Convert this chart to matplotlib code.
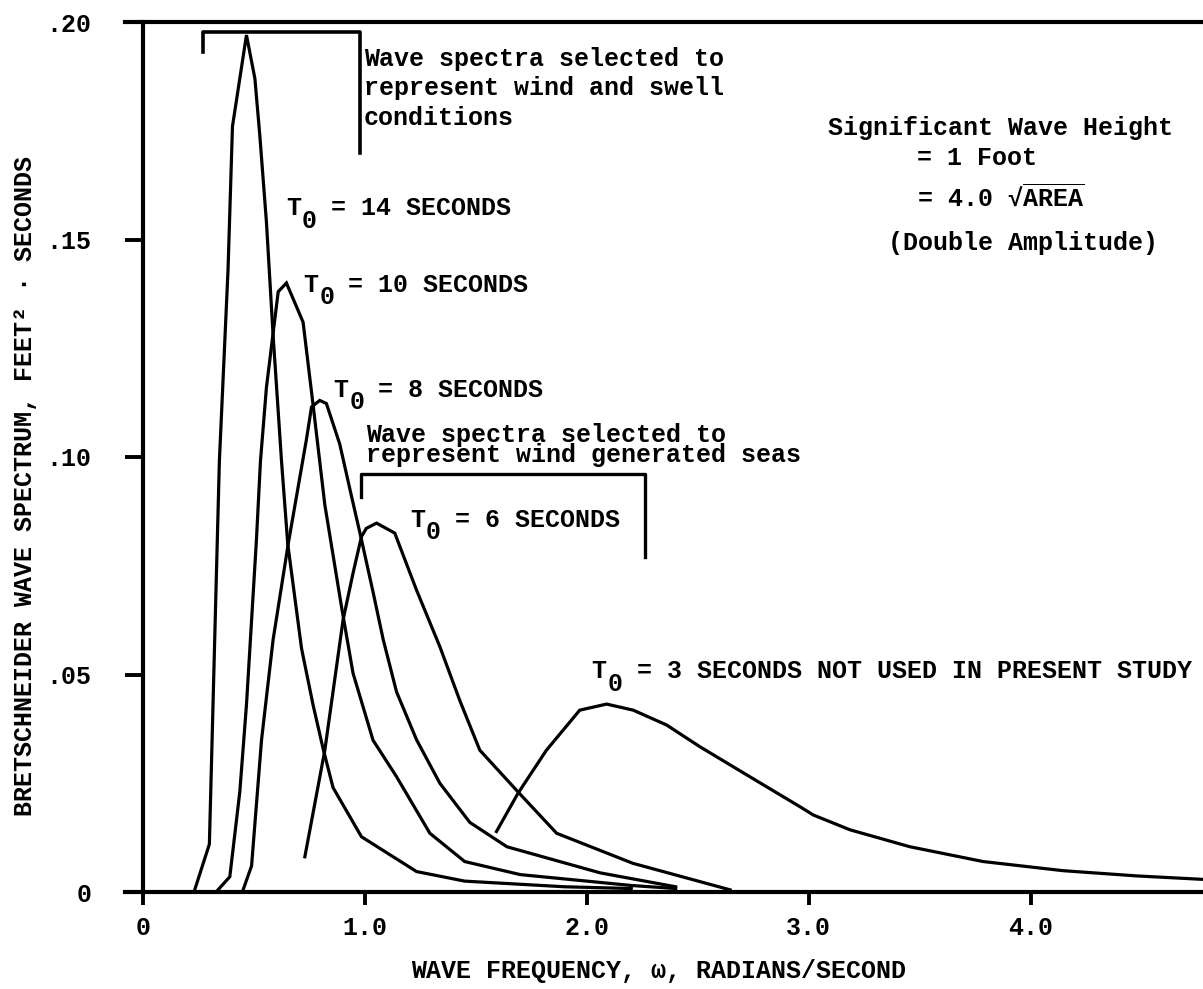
import matplotlib
matplotlib.use("Agg")
import matplotlib.pyplot as plt

# Bretschneider wave spectra (omega in rad/s, S in ft^2 * s) for each modal period T0
omega_t14 = [0.234, 0.300, 0.324, 0.345, 0.384, 0.404, 0.467, 0.505, 0.527, 0.557,
             0.587, 0.625, 0.653, 0.715, 0.767, 0.812, 0.857, 0.985, 1.233, 1.450,
             1.900, 2.200]
spec_t14 = [0.0005, 0.011, 0.058, 0.099, 0.143, 0.176, 0.197, 0.187, 0.174, 0.154,
            0.128, 0.099, 0.080, 0.056, 0.043, 0.033, 0.024, 0.0127, 0.0047, 0.0025,
            0.0012, 0.0008]

omega_t10 = [0.339, 0.392, 0.437, 0.467, 0.512, 0.530, 0.557, 0.610, 0.647, 0.722,
             0.767, 0.820, 0.895, 0.947, 1.037, 1.143, 1.293, 1.450, 1.700, 2.200,
             2.400]
spec_t10 = [0.0005, 0.0035, 0.023, 0.043, 0.081, 0.099, 0.116, 0.138, 0.140, 0.131,
            0.112, 0.089, 0.0656, 0.0503, 0.0349, 0.0265, 0.0135, 0.007, 0.004, 0.0015,
            0.0008]

omega_t8 = [0.452, 0.490, 0.535, 0.587, 0.655, 0.737, 0.760, 0.797, 0.827, 0.887,
            0.940, 0.985, 1.037, 1.083, 1.143, 1.233, 1.338, 1.473, 1.640, 2.060,
            2.400]
spec_t8 = [0.0005, 0.006, 0.035, 0.058, 0.080, 0.104, 0.1115, 0.113, 0.1123, 0.103,
           0.091, 0.081, 0.069, 0.058, 0.046, 0.035, 0.025, 0.016, 0.0104, 0.0044,
           0.0012]

omega_t6 = [0.730, 0.820, 0.902, 0.947, 0.985, 1.007, 1.053, 1.135, 1.233, 1.338,
            1.428, 1.518, 1.683, 1.864, 2.207, 2.645]
spec_t6 = [0.0081, 0.0326, 0.0625, 0.0733, 0.0817, 0.0836, 0.0848, 0.0825, 0.0694, 0.0564,
           0.044, 0.0326, 0.0234, 0.0135, 0.0066, 0.0005]

omega_t3 = [1.593, 1.690, 1.818, 1.968, 2.089, 2.209, 2.359, 2.509, 2.734, 2.960,
            3.020, 3.185, 3.455, 3.785, 4.145, 4.476, 4.775]
spec_t3 = [0.0139, 0.0227, 0.0326, 0.0418, 0.0432, 0.0418, 0.0384, 0.0334, 0.0265, 0.0196,
           0.0177, 0.0143, 0.0104, 0.0070, 0.0049, 0.0037, 0.0029]

# Curve labels: (x, y baseline, period text)
curve_labels = [
    (0.644, 0.1556, "= 14 SECONDS"),
    (0.722, 0.1380, "= 10 SECONDS"),
    (0.857, 0.1139, "= 8 SECONDS"),
    (1.203, 0.0840, "= 6 SECONDS"),
    (2.021, 0.0491, "= 3 SECONDS NOT USED IN PRESENT STUDY"),
]

# Brackets grouping the spectra
swell_bracket_x = [0.27, 0.27, 0.977, 0.977]
swell_bracket_y = [0.1930, 0.1978, 0.1978, 0.1700]
seas_bracket_x = [0.981, 0.981, 2.261, 2.261]
seas_bracket_y = [0.0909, 0.0960, 0.0960, 0.0771]

swell_note = ["Wave spectra selected to", "represent wind and swell", "conditions"]
seas_note = ["Wave spectra selected to", "represent wind generated seas"]

height_note = [
    (3.087, 0.1740, "Significant Wave Height"),
    (3.485, 0.1671, "= 1 Foot"),
    (3.485, 0.1579, r"= 4.0 √$\overline{\mathregular{AREA}}$"),
    (3.357, 0.1476, "(Double Amplitude)"),
]

x_ticks = [0, 1, 2, 3, 4]
x_tick_labels = ["0", "1.0", "2.0", "3.0", "4.0"]
y_ticks = [0, 0.05, 0.10, 0.15, 0.20]
y_tick_labels = ["0", ".05", ".10", ".15", ".20"]

plt.rcParams["font.family"] = ["Liberation Mono", "DejaVu Sans Mono"]
plt.rcParams["font.weight"] = "bold"
plt.rcParams["axes.labelweight"] = "bold"
plt.rcParams["mathtext.default"] = "regular"

FS = 18
W = 1203
H = 989

fig = plt.figure(figsize=(W / 100, H / 100), dpi=100)
ax = fig.add_axes([125 / W, 1 - 892 / H, 1 - 125 / W, (892 - 22) / H])
ax.set_xlim(-0.08, 4.775)
ax.set_ylim(0, 0.20)

for side in ("top", "bottom", "left"):
    ax.spines[side].set_linewidth(3.0)
ax.spines["right"].set_visible(False)
ax.spines["left"].set_position(("data", 0))

ax.set_xticks(x_ticks)
ax.set_xticklabels(x_tick_labels)
ax.set_yticks(y_ticks)
ax.set_yticklabels(y_tick_labels)
ax.tick_params(axis="x", direction="out", length=9.5, width=2.8, pad=8, labelsize=FS)
ax.tick_params(axis="y", direction="out", length=13, width=2.8, pad=24, labelsize=FS)

curves = [(omega_t14, spec_t14), (omega_t10, spec_t10), (omega_t8, spec_t8),
          (omega_t6, spec_t6), (omega_t3, spec_t3)]
for om, sp in curves:
    ax.plot(om, sp, color="black", lw=2.3, solid_joinstyle="miter", clip_on=False)

ax.plot(swell_bracket_x, swell_bracket_y, color="black", lw=2.6, clip_on=False)
ax.plot(seas_bracket_x, seas_bracket_y, color="black", lw=2.4, clip_on=False)

# "T" with a full-size, dropped subscript "0", then the period text
char_pt = 0.6 * FS
for x, y, text in curve_labels:
    ax.text(x, y, "T", fontsize=FS, ha="left", va="baseline")
    ax.annotate("0", (x, y), xytext=(char_pt * 1.08, -0.5 * FS), textcoords="offset points",
                fontsize=FS, ha="left", va="baseline")
    ax.annotate(text, (x, y), xytext=(char_pt * 3.0, 0), textcoords="offset points",
                fontsize=FS, ha="left", va="baseline")

# multi-line notes are anchored on the baseline of their last line
ax.text(0.995, 0.1763, "\n".join(swell_note), fontsize=FS, ha="left", va="baseline",
        linespacing=1.3)
ax.text(1.005, 0.0989, "\n".join(seas_note), fontsize=FS, ha="left", va="baseline",
        linespacing=0.76)
for x, y, line in height_note:
    ax.text(x, y, line, fontsize=FS, ha="left", va="baseline")

ax.set_xlabel("WAVE FREQUENCY, ω, RADIANS/SECOND", fontsize=FS)
ax.xaxis.set_label_coords(0.4954, -0.0908)
ax.xaxis.label.set_va("center")
ax.set_ylabel("BRETSCHNEIDER WAVE SPECTRUM, FEET² · SECONDS", fontsize=FS)
ax.yaxis.set_label_coords(-0.0928, 0.4667)
ax.yaxis.label.set_va("center")

fig.savefig("out.png", dpi=100)
